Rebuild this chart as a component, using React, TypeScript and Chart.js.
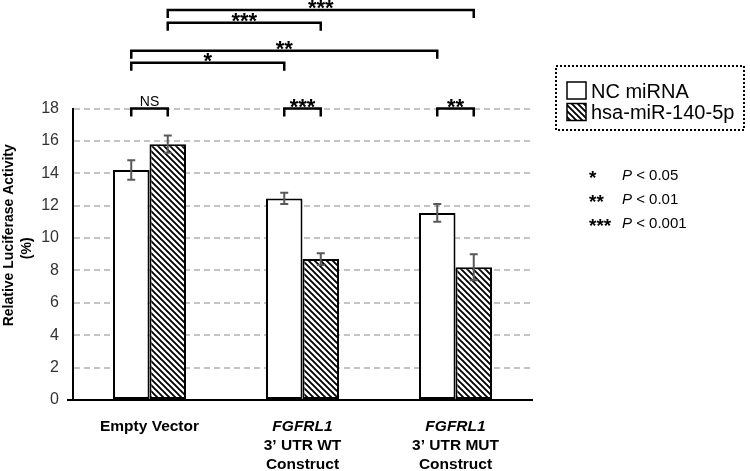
import { useEffect, useRef } from "react";
import { Chart, registerables } from "chart.js";

Chart.register(...registerables);

// ---------- data ----------
const categories = ["Empty Vector", "FGFRL1 3’ UTR WT Construct", "FGFRL1 3’ UTR MUT Construct"];
const categoryLines = [["Empty Vector"], ["FGFRL1", "3’ UTR WT", "Construct"], ["FGFRL1", "3’ UTR MUT", "Construct"]];
const italicLine = "FGFRL1";
const seriesNames = ["NC miRNA", "hsa-miR-140-5p"];
const ncValues = [14.2, 12.45, 11.55];
const ncErrors = [0.6, 0.35, 0.55];
const mirValues = [15.8, 8.7, 8.2];
const mirErrors = [0.53, 0.36, 0.8];
const yMin = 0;
const yMax = 18;
const yStep = 2;
const yTitleLines = ["Relative Luciferase Activity", "(%)"];

// significance brackets: [dataset, category] ends, level in data units, label
const bracketA = [[0, 0], [0, 1], [0, 2], [0, 0], [0, 0], [1, 0], [1, 0]];
const bracketB = [[1, 0], [1, 1], [1, 2], [0, 1], [0, 2], [1, 1], [1, 2]];
const bracketLevels = [18, 18, 18, 20.82, 21.56, 23.29, 24.09];
const bracketLabels = ["NS", "***", "**", "*", "**", "***", "***"];

const keySymbols = ["*", "**", "***"];
const keyThresholds = ["0.05", "0.01", "0.001"];

// ---------- styles ----------
const FONT = "'Liberation Sans', Arial, Helvetica, sans-serif";

function makeHatch(): CanvasPattern | string {
  const s = 6;
  const c = document.createElement("canvas");
  c.width = s;
  c.height = s;
  const g = c.getContext("2d");
  if (!g) return "#000";
  g.fillStyle = "#fff";
  g.fillRect(0, 0, s, s);
  g.strokeStyle = "#000";
  g.lineWidth = 1.9;
  g.beginPath();
  g.moveTo(-1, -1);
  g.lineTo(s + 1, s + 1);
  g.moveTo(-1, s - 1);
  g.lineTo(1, s + 1);
  g.moveTo(s - 1, -1);
  g.lineTo(s + 1, 1);
  g.stroke();
  const p = g.createPattern(c, "repeat");
  return p || "#000";
}

function centerText(ctx: CanvasRenderingContext2D, text: string, cx: number, cy: number) {
  const m = ctx.measureText(text);
  const a = m.actualBoundingBoxAscent;
  const d = m.actualBoundingBoxDescent;
  ctx.textBaseline = "alphabetic";
  ctx.fillText(text, cx, cy + (a - d) / 2);
}

const overlayPlugin = {
  id: "overlay",
  afterDraw(chart: any) {
    const ctx: CanvasRenderingContext2D = chart.ctx;
    const ys = chart.scales.y;
    const xs = chart.scales.x;
    const area = chart.chartArea;
    const vals = [ncValues, mirValues];
    const errs = [ncErrors, mirErrors];

    ctx.save();

    // x axis line small extension to the left
    ctx.strokeStyle = "#000";
    ctx.lineWidth = 2;
    ctx.beginPath();
    ctx.moveTo(area.left - 6, area.bottom);
    ctx.lineTo(area.left, area.bottom);
    ctx.stroke();

    // error bars
    for (let di = 0; di < 2; di++) {
      const meta = chart.getDatasetMeta(di);
      meta.data.forEach((el: any, i: number) => {
        const cx = el.x;
        const top = ys.getPixelForValue(vals[di][i] + errs[di][i]);
        const bot = ys.getPixelForValue(vals[di][i] - errs[di][i]);
        ctx.strokeStyle = "#595959";
        ctx.lineWidth = 2;
        ctx.beginPath();
        ctx.moveTo(cx, top);
        ctx.lineTo(cx, bot);
        ctx.moveTo(cx - 4, top);
        ctx.lineTo(cx + 4, top);
        ctx.moveTo(cx - 4, bot);
        ctx.lineTo(cx + 4, bot);
        ctx.stroke();
      });
    }

    // brackets
    for (let k = 0; k < bracketLevels.length; k++) {
      const ea = chart.getDatasetMeta(bracketA[k][0]).data[bracketA[k][1]];
      const eb = chart.getDatasetMeta(bracketB[k][0]).data[bracketB[k][1]];
      const x1 = ea.x;
      const x2 = eb.x;
      const by = ys.getPixelForValue(bracketLevels[k]);
      ctx.strokeStyle = "#000";
      ctx.lineWidth = 2.5;
      ctx.lineJoin = "miter";
      ctx.beginPath();
      ctx.moveTo(x1, by + 8);
      ctx.lineTo(x1, by);
      ctx.lineTo(x2, by);
      ctx.lineTo(x2, by + 8);
      ctx.stroke();
      ctx.fillStyle = "#000";
      ctx.textAlign = "center";
      const lab = bracketLabels[k];
      if (lab === "NS") {
        ctx.font = `14px ${FONT}`;
        centerText(ctx, lab, (x1 + x2) / 2, by - 7.5);
      } else {
        ctx.font = `bold 22px ${FONT}`;
        centerText(ctx, lab, (x1 + x2) / 2, by - 5.5);
      }
    }

    // category labels
    ctx.fillStyle = "#000";
    ctx.textAlign = "center";
    ctx.textBaseline = "alphabetic";
    categoryLines.forEach((lines, i) => {
      const cx = xs.getPixelForValue(i);
      lines.forEach((ln, j) => {
        ctx.font = `${ln === italicLine ? "italic " : ""}bold 15.5px ${FONT}`;
        ctx.fillText(ln, cx, area.bottom + 31 + j * 19);
      });
    });

    // y axis title
    ctx.fillStyle = "#000";
    ctx.font = `bold 14px ${FONT}`;
    const midY = (area.top + area.bottom) / 2;
    const titlePos = [
      [9, midY - 19],
      [27, midY - 6],
    ];
    yTitleLines.forEach((t, i) => {
      ctx.save();
      ctx.translate(titlePos[i][0], titlePos[i][1]);
      ctx.rotate(-Math.PI / 2);
      ctx.textAlign = "center";
      centerText(ctx, t, 0, 0);
      ctx.restore();
    });

    // legend box
    const lx = area.right + 24;
    const ly = 66;
    ctx.save();
    ctx.strokeStyle = "#000";
    ctx.lineWidth = 2;
    ctx.setLineDash([2, 2]);
    ctx.strokeRect(lx, ly, 188, 64);
    ctx.restore();
    chart.data.datasets.forEach((ds: any, i: number) => {
      const sy = ly + 16 + i * 21.5;
      ctx.fillStyle = ds.backgroundColor;
      ctx.fillRect(lx + 11, sy, 19, 17);
      ctx.strokeStyle = "#000";
      ctx.lineWidth = 1.5;
      ctx.strokeRect(lx + 11, sy, 19, 17);
      ctx.fillStyle = "#000";
      ctx.font = `20px ${FONT}`;
      ctx.textAlign = "left";
      ctx.textBaseline = "alphabetic";
      ctx.fillText(ds.label, lx + 35, sy + 15.5);
    });

    // significance key
    keySymbols.forEach((sym, i) => {
      const bl = 180 + i * 24;
      ctx.fillStyle = "#000";
      ctx.textAlign = "left";
      ctx.textBaseline = "alphabetic";
      ctx.font = `bold 19px ${FONT}`;
      ctx.fillText(sym, area.right + 57, bl + 4);
      ctx.font = `italic 15px ${FONT}`;
      const px = area.right + 90;
      ctx.fillText("P", px, bl);
      const w = ctx.measureText("P").width;
      ctx.font = `15px ${FONT}`;
      ctx.fillText(` < ${keyThresholds[i]}`, px + w, bl);
    });

    ctx.restore();
  },
};

export default function App() {
  const ref = useRef<HTMLCanvasElement | null>(null);

  useEffect(() => {
    if (!ref.current) return;
    const hatch = makeHatch();
    const yTickValues: number[] = [];
    for (let v = yMin; v <= yMax; v += yStep) yTickValues.push(v);

    const chart = new Chart(ref.current, {
      type: "bar",
      data: {
        labels: categories,
        datasets: [
          {
            label: seriesNames[0],
            data: ncValues,
            backgroundColor: "#ffffff",
            borderColor: "#000000",
            borderWidth: 2,
            borderSkipped: false,
            categoryPercentage: 0.477,
            barPercentage: 1.0,
          },
          {
            label: seriesNames[1],
            data: mirValues,
            backgroundColor: hatch as any,
            borderColor: "#000000",
            borderWidth: 2,
            borderSkipped: false,
            categoryPercentage: 0.477,
            barPercentage: 1.0,
          },
        ],
      },
      options: {
        responsive: false,
        animation: false,
        devicePixelRatio: 1,
        layout: { padding: { top: 108.5, right: 218, bottom: 0, left: 0 } },
        plugins: {
          legend: { display: false },
          tooltip: { enabled: false },
          title: { display: false },
        },
        scales: {
          x: {
            type: "category",
            ticks: { display: false },
            grid: { display: false, drawTicks: false },
            border: { display: true, color: "#000", width: 2 },
            afterFit: (s: any) => {
              s.height = 71;
            },
          },
          y: {
            type: "linear",
            min: yMin,
            max: yMax,
            afterBuildTicks: (s: any) => {
              s.ticks = yTickValues.map((v) => ({ value: v }));
            },
            ticks: {
              color: "#333333",
              padding: 14,
              font: { family: FONT, size: 16 },
            },
            grid: {
              color: "#c4c4c4",
              lineWidth: 2,
              drawTicks: false,
            },
            border: { display: true, color: "#000", width: 2, dash: [6, 4] },
            afterFit: (s: any) => {
              s.width = 73;
            },
          },
        },
      },
      plugins: [overlayPlugin],
    });
    return () => chart.destroy();
  }, []);

  return (
    <div style={{ position: "fixed", left: 0, top: 0, width: 750, height: 471, background: "#fff" }}>
      <canvas ref={ref} width={750} height={471} style={{ display: "block" }} />
    </div>
  );
}
